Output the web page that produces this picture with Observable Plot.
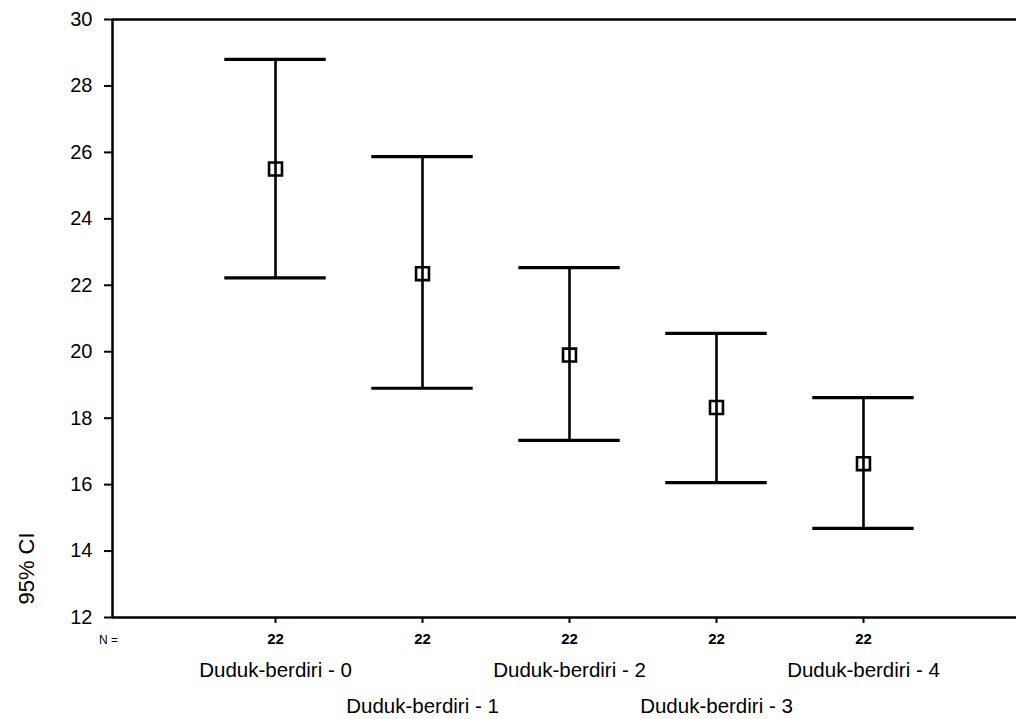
<!DOCTYPE html>
<html><head><meta charset="utf-8">
<script src="https://cdn.jsdelivr.net/npm/d3@7"></script>
<script src="https://cdn.jsdelivr.net/npm/@observablehq/plot@0.6"></script>
<style>body{margin:0;background:#fff;}</style>
</head><body><div id="chart"></div>
<script>
const groups = ["Duduk-berdiri - 0", "Duduk-berdiri - 1", "Duduk-berdiri - 2", "Duduk-berdiri - 3", "Duduk-berdiri - 4"];
const nValues = [22, 22, 22, 22, 22];
const means = [25.5, 22.35, 19.9, 18.32, 16.63];
const lower = [22.22, 18.9, 17.33, 16.06, 14.68];
const upper = [28.8, 25.87, 22.53, 20.55, 18.62];
const yTicks = [12, 14, 16, 18, 20, 22, 24, 26, 28, 30];
const yLabel = "95% CI";
const nLabel = "N =";

const rows = groups.map((g, i) => ({i, group: g, n: nValues[i], mean: means[i], lo: lower[i], hi: upper[i]}));
const xMin = -1.109, xMax = 5.041;
const capHalf = 0.345;

const chart = Plot.plot({
  width: 1016, height: 719,
  marginLeft: 112, marginRight: 0, marginTop: 19, marginBottom: 102,
  x: {domain: [xMin, xMax], axis: null},
  y: {domain: [12, 30], axis: null},
  style: {fontFamily: "'Liberation Sans', Arial, sans-serif", color: "black", background: "white"},
  marks: [
    Plot.axisY({ticks: yTicks, tickSize: 8, tickPadding: 12, fontSize: 20, label: null, strokeWidth: 2}),
    Plot.ruleY([12, 30], {stroke: "black", strokeWidth: 2.5}),
    Plot.ruleX([xMin], {stroke: "black", strokeWidth: 2.5}),
    Plot.axisX({ticks: [0, 1, 2, 3, 4], tickFormat: i => nValues[i], tickSize: 6, tickPadding: 10, fontSize: 15, fontWeight: "bold", strokeWidth: 2, label: null}),
    Plot.axisX({ticks: [0, 2, 4], tickFormat: i => groups[i], tickSize: 0, tickPadding: 45, fontSize: 20.5, label: null}),
    Plot.axisX({ticks: [1, 3], tickFormat: i => groups[i], tickSize: 0, tickPadding: 81, fontSize: 20.5, label: null}),
    Plot.ruleX(rows, {x: "i", y1: "lo", y2: "hi", stroke: "black", strokeWidth: 2.6}),
    Plot.ruleY(rows, {y: "hi", x1: d => d.i - capHalf, x2: d => d.i + capHalf, stroke: "black", strokeWidth: 3.2}),
    Plot.ruleY(rows, {y: "lo", x1: d => d.i - capHalf, x2: d => d.i + capHalf, stroke: "black", strokeWidth: 3.2}),
    Plot.dot(rows, {x: "i", y: "mean", symbol: "square", r: 7.3, fill: "none", stroke: "black", strokeWidth: 2.6}),
    Plot.text([nLabel], {frameAnchor: "bottom-left", text: d => d, dx: -4, dy: 23, fontSize: 12, textAnchor: "middle", lineAnchor: "middle"}),
    Plot.text([yLabel], {frameAnchor: "bottom-left", text: d => d, rotate: -90, dx: -86, dy: -49, fontSize: 22, textAnchor: "middle", lineAnchor: "middle"})
  ]
});
document.getElementById("chart").appendChild(chart);
</script>
</body></html>
